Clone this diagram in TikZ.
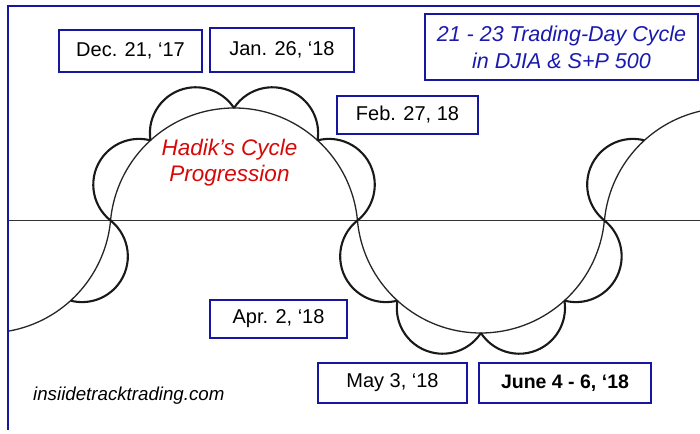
\documentclass[tikz,border=0pt]{standalone}
\usepackage{fontspec}
\setmainfont{Liberation Sans}
\usetikzlibrary{calc}
\definecolor{frameblue}{RGB}{22,22,160}
\definecolor{titleblue}{RGB}{26,26,175}
\definecolor{hadred}{RGB}{215,8,8}
\newcommand\LobeR{124}
\newcommand\LobePsi{78}
\newcommand\drawlobe[3]{%
  \pgfmathsetmacro\LobeMid{(#2+#3)/2}%
  \pgfmathsetmacro\LobeHalf{abs(#3-#2)/2}%
  \pgfmathsetmacro\LobeA{\LobeR*sin(\LobeHalf)}%
  \pgfmathsetmacro\LobeRad{\LobeA/sin(\LobePsi)}%
  \pgfmathsetmacro\LobeDist{\LobeR*cos(\LobeHalf)-\LobeRad*cos(\LobePsi)}%
  \pgfmathsetmacro\LobeSgn{sign(#3-#2)}%
  \pgfmathsetmacro\LobeStart{\LobeMid-\LobeSgn*\LobePsi}%
  \pgfmathsetmacro\LobeEnd{\LobeMid+\LobeSgn*\LobePsi}%
  \draw[lobe] ($(#1)+(\LobeMid:\LobeDist)$) ++(\LobeStart:\LobeRad)
     arc[start angle=\LobeStart, end angle=\LobeEnd, radius=\LobeRad];%
}
\begin{document}
\begin{tikzpicture}[x=1pt,y=1pt,
  datebox/.style={draw=frameblue, fill=white, line width=1.8pt, inner sep=0pt,
     font=\fontsize{20}{24}\selectfont},
  framelines/.style={draw=frameblue, line width=2.3pt},
  bigarc/.style={line width=1.3pt, black!85},
  lobe/.style={line width=2.1pt, black!90},
  axisline/.style={line width=1.3pt, black!80},
]
\useasboundingbox (0,0) rectangle (700,433);
\fill[white] (0,0) rectangle (700,433);
% centres of the cycle circles
\coordinate (C0) at (-12.9,224);
\coordinate (C1) at (234,201);
\coordinate (C2) at (480.9,224);
\coordinate (C3) at (727.9,201);
\coordinate (axL) at (8,212.5);
\coordinate (axR) at (700,212.5);
\draw[axisline] (axL) -- (axR);
\begin{scope}
\clip (8,0) rectangle (700,427);
% big arcs
\draw[bigarc] ($(C1)+(5.32:\LobeR)$) arc[start angle=5.32, end angle=174.68, radius=\LobeR];
\draw[bigarc] ($(C2)+(185.32:\LobeR)$) arc[start angle=185.32, end angle=354.68, radius=\LobeR];
\draw[bigarc] ($(C0)+(354.68:\LobeR)$) arc[start angle=354.68, end angle=255, radius=\LobeR];
\draw[bigarc] ($(C3)+(174.68:\LobeR)$) arc[start angle=174.68, end angle=75, radius=\LobeR];
% lobes
\drawlobe{C1}{174.68}{132.34}
\drawlobe{C1}{132.34}{90}
\drawlobe{C1}{90}{47.66}
\drawlobe{C1}{47.66}{5.32}
\drawlobe{C2}{185.32}{227.66}
\drawlobe{C2}{227.66}{270}
\drawlobe{C2}{270}{312.34}
\drawlobe{C2}{312.34}{354.68}
\drawlobe{C0}{354.68}{312.34}
\drawlobe{C3}{174.68}{132.34}
\end{scope}
% frame
\coordinate (fTR) at (700,427);
\coordinate (fTL) at (8,427);
\coordinate (fBL) at (8,3);
\draw[framelines] (fTR) -- (fTL) -- (fBL);
% boxes
\node[datebox, minimum width=143pt, minimum height=42pt] (dec) at (130.5,382) {Dec. 21, ‘17};
\node[datebox, minimum width=144pt, minimum height=44pt] (jan) at (282,383) {Jan. 26, ‘18};
\node[datebox, minimum width=141pt, minimum height=38pt] (feb) at (407.5,318) {Feb. 27, 18};
\node[datebox, minimum width=137pt, minimum height=38pt] (apr) at (278.5,114) {Apr. 2, ‘18};
\node[datebox, minimum width=149pt, minimum height=40pt] (may) at (392.5,50) {May 3, ‘18};
\node[datebox, minimum width=172pt, minimum height=40pt, font=\fontsize{19.5}{24}\selectfont\bfseries] (june) at (565,50) {June 4 - 6, ‘18};
\node[datebox, minimum width=273pt, minimum height=66pt, align=center, text=titleblue,
      font=\fontsize{21.5}{27}\selectfont\itshape] (title) at (561.5,386)
      {21 - 23 Trading-Day Cycle\\in DJIA \& S+P 500};
\node[align=center, text=hadred, inner sep=0pt, font=\fontsize{22.5}{26}\selectfont\itshape] (hadik) at (229.5,270)
      {Hadik’s Cycle\\Progression};
\node[anchor=base west, inner sep=0pt, font=\fontsize{18.7}{22}\selectfont\itshape] (site) at (33,33)
      {insiidetracktrading.com};
\end{tikzpicture}
\end{document}
